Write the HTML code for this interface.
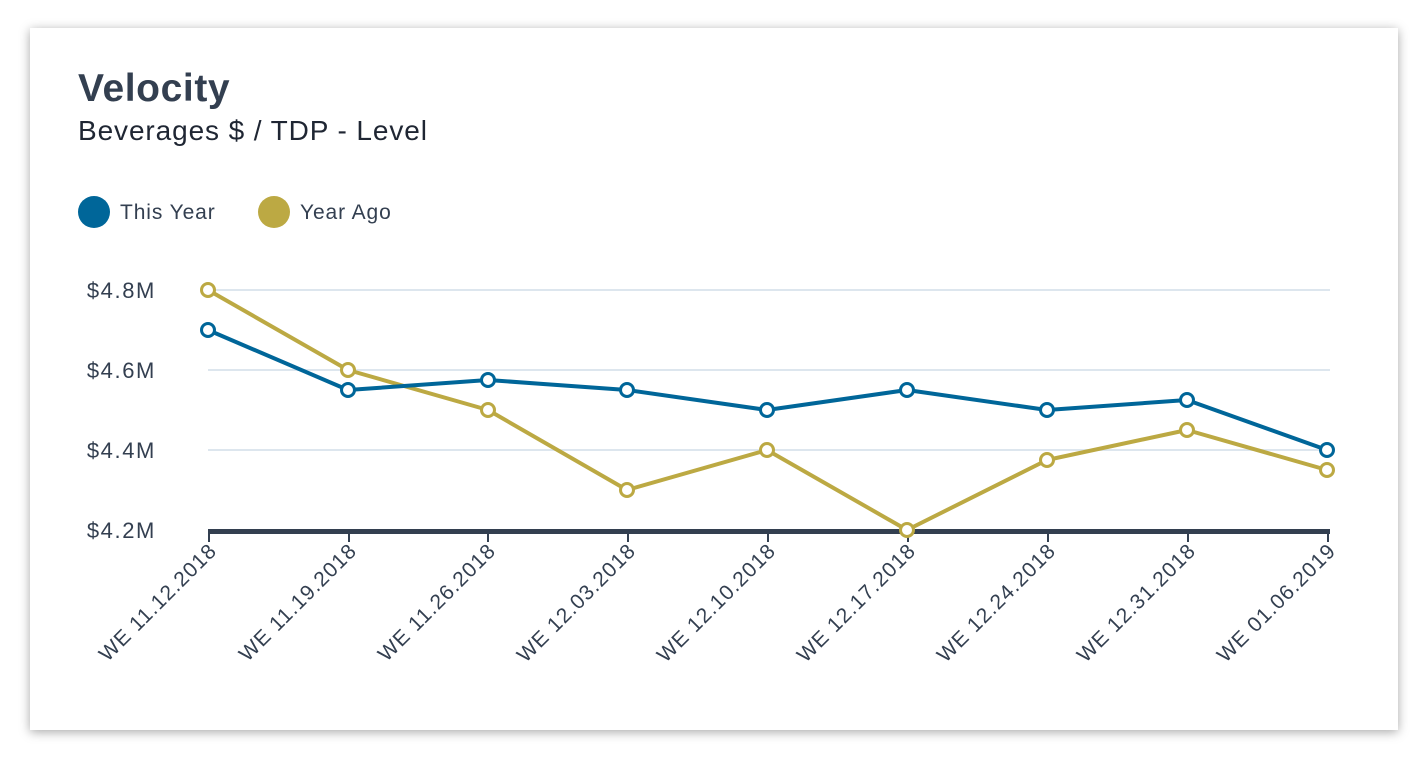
<!DOCTYPE html>
<html><head><style>
body{margin:0;background:#fff;width:1428px;height:764px;overflow:hidden;font-family:"Liberation Sans",sans-serif;}
.card{position:absolute;left:30px;top:28px;width:1368px;height:702px;background:#fff;box-shadow:0 2px 10px rgba(0,0,0,0.35);}
</style></head><body>
<div class="card"></div>
<svg width="1428" height="764" style="position:absolute;left:0;top:0">
<text x="78" y="101" font-size="39" font-weight="bold" fill="#333f50" letter-spacing="0.6">Velocity</text>
<text x="78" y="140" font-size="28" fill="#1f2633" letter-spacing="0.9">Beverages $ / TDP - Level</text>
<circle cx="94" cy="212" r="16" fill="#006699"/>
<text x="120" y="219" font-size="21" fill="#333f50" letter-spacing="0.9">This Year</text>
<circle cx="274" cy="212" r="16" fill="#bca943"/>
<text x="300" y="219" font-size="21" fill="#333f50" letter-spacing="0.9">Year Ago</text>
<g stroke="#dde6ee" stroke-width="2">
<line x1="208" y1="290" x2="1330" y2="290"/><line x1="208" y1="370" x2="1330" y2="370"/><line x1="208" y1="450" x2="1330" y2="450"/>
</g>
<g font-size="22" fill="#333f50" text-anchor="end" letter-spacing="1.6">
<text x="156" y="298">$4.8M</text><text x="156" y="378">$4.6M</text><text x="156" y="458">$4.4M</text><text x="156" y="538">$4.2M</text>
</g>
<rect x="208" y="529" width="1122" height="5" fill="#333f50"/>
<g stroke="#333f50" stroke-width="2">
<line x1="209" y1="530" x2="209" y2="542"/><line x1="349" y1="530" x2="349" y2="542"/><line x1="488" y1="530" x2="488" y2="542"/><line x1="628" y1="530" x2="628" y2="542"/><line x1="768" y1="530" x2="768" y2="542"/><line x1="908" y1="530" x2="908" y2="542"/><line x1="1048" y1="530" x2="1048" y2="542"/><line x1="1188" y1="530" x2="1188" y2="542"/><line x1="1328" y1="530" x2="1328" y2="542"/>
</g>
<g font-size="21" fill="#333f50" text-anchor="end" letter-spacing="1">
<text transform="translate(218,552) rotate(-45)">WE 11.12.2018</text>
<text transform="translate(358,552) rotate(-45)">WE 11.19.2018</text>
<text transform="translate(497,552) rotate(-45)">WE 11.26.2018</text>
<text transform="translate(637,552) rotate(-45)">WE 12.03.2018</text>
<text transform="translate(777,552) rotate(-45)">WE 12.10.2018</text>
<text transform="translate(917,552) rotate(-45)">WE 12.17.2018</text>
<text transform="translate(1057,552) rotate(-45)">WE 12.24.2018</text>
<text transform="translate(1197,552) rotate(-45)">WE 12.31.2018</text>
<text transform="translate(1337,552) rotate(-45)">WE 01.06.2019</text>
</g>
<g fill="none" stroke-width="4" stroke-linejoin="round">
<polyline stroke="#bca943" points="208,290 348,370 488,410 627,490 767,450 907,530 1047,460 1187,430 1327,470"/>
<polyline stroke="#006699" points="208,330 348,390 488,380 627,390 767,410 907,390 1047,410 1187,400 1327,450"/>
</g>
<g fill="#fff" stroke="#bca943" stroke-width="3">
<circle cx="208" cy="290" r="6.5"/><circle cx="348" cy="370" r="6.5"/><circle cx="488" cy="410" r="6.5"/><circle cx="627" cy="490" r="6.5"/><circle cx="767" cy="450" r="6.5"/><circle cx="907" cy="530" r="6.5"/><circle cx="1047" cy="460" r="6.5"/><circle cx="1187" cy="430" r="6.5"/><circle cx="1327" cy="470" r="6.5"/>
</g>
<g fill="#fff" stroke="#006699" stroke-width="3">
<circle cx="208" cy="330" r="6.5"/><circle cx="348" cy="390" r="6.5"/><circle cx="488" cy="380" r="6.5"/><circle cx="627" cy="390" r="6.5"/><circle cx="767" cy="410" r="6.5"/><circle cx="907" cy="390" r="6.5"/><circle cx="1047" cy="410" r="6.5"/><circle cx="1187" cy="400" r="6.5"/><circle cx="1327" cy="450" r="6.5"/>
</g>
</svg>
</body></html>
